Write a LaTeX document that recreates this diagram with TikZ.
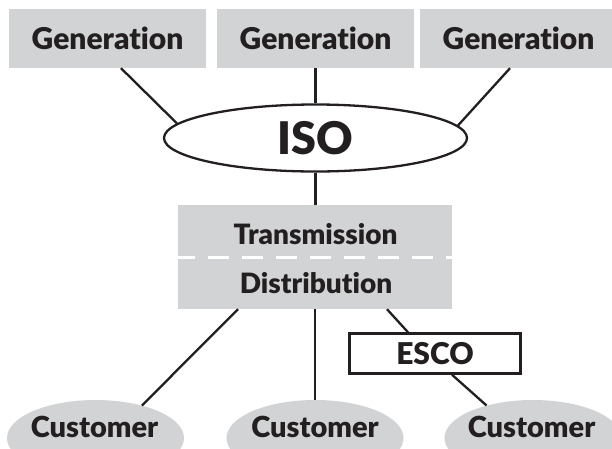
\documentclass[tikz,border=0pt]{standalone}
\usepackage{fontspec}
\setmainfont{Lato}[BoldFont={Lato Black}, Ligatures={NoCommon,NoRequired,NoContextual}]
\usetikzlibrary{shapes.geometric}

\definecolor{boxgrey}{HTML}{D1D3D4}
\definecolor{ink}{HTML}{231F20}

\tikzset{
  wire/.style={draw=ink, line width=2.3pt},
  genbox/.style={rectangle, fill=boxgrey, inner sep=0pt, minimum width=197pt, minimum height=59pt,
    text=ink, text height=22pt, text depth=0pt, font=\fontsize{30}{36}\selectfont\bfseries},
  isonode/.style={ellipse, draw=ink, line width=2.3pt, fill=white, inner sep=0pt, minimum width=303pt,
    minimum height=67pt, text=ink, text height=32pt, text depth=0pt, font=\fontsize{45}{54}\selectfont\bfseries},
  gridbox/.style={rectangle, fill=boxgrey, inner sep=0pt, minimum width=274pt, minimum height=104pt},
  gridtxt/.style={inner sep=0pt, text=ink, text height=21pt, text depth=0pt, font=\fontsize{28}{34}\selectfont\bfseries},
  escobox/.style={rectangle, draw=ink, line width=2.5pt, fill=white, inner sep=0pt, minimum width=171pt,
    minimum height=40pt, text=ink, text height=21pt, text depth=0pt, font=\fontsize{30}{36}\selectfont\bfseries},
  custnode/.style={ellipse, fill=boxgrey, inner sep=0pt, minimum width=177pt, minimum height=76pt},
  custtxt/.style={inner sep=0pt, text=ink, text height=21pt, text depth=0pt, font=\fontsize{29}{35}\selectfont\bfseries}
}

\begin{document}
\begin{tikzpicture}[x=1pt,y=-1pt]
  %%%%% START %%%%%
  \useasboundingbox (0,0) rectangle (612,448);
  \clip (0,0) rectangle (612,448);

  % generators on top
  \node[genbox] (gen1) at (107.5,38.5) {Generation};
  \node[genbox] (gen2) at (315.5,38.5) {Generation};
  \node[genbox] (gen3) at (518.5,38.5) {Generation};

  \node[isonode] (iso) at (315.5,138) {ISO};

  % wires block, split by a white dashed line
  \node[gridbox] (grid) at (315,257) {};
  \node[gridtxt] (trans) at (315.5,233.5) {Transmission};
  \node[gridtxt] (dist) at (316,282.5) {Distribution};
  \draw[white, line width=3pt, dash pattern=on 21pt off 13pt, dash phase=4pt] (grid.west) -- (grid.east);

  \node[escobox] (esco) at (435,353.5) {ESCO};

  % customers, cut by the lower edge
  \node[custnode] (cust1) at (95.5,438) {};
  \node[custnode] (cust2) at (315,438) {};
  \node[custnode] (cust3) at (533,438) {};
  \node[custtxt] (cname1) at (94.5,426.5) {Customer};
  \node[custtxt] (cname2) at (315,426.5) {Customer};
  \node[custtxt] (cname3) at (531.5,426.5) {Customer};

  \draw[wire] ([xshift=13.5pt]gen1.south) -- (iso.174);
  \draw[wire] (gen2) -- (iso);
  \draw[wire] ([xshift=-8.5pt]gen3.south) -- (iso.5);
  \draw[wire] (iso.south) -- (iso.south |- grid.north);
  \draw[wire] ([xshift=-77pt]grid.south) -- (cust1.35);
  \draw[wire] (grid) -- (cust2);
  \draw[wire] ([xshift=72pt]grid.south) -- ([xshift=-27pt]esco.north);
  \draw[wire] ([xshift=17pt]esco.south) -- (cust3.145);
  %%%%% END %%%%%
\end{tikzpicture}
\end{document}
